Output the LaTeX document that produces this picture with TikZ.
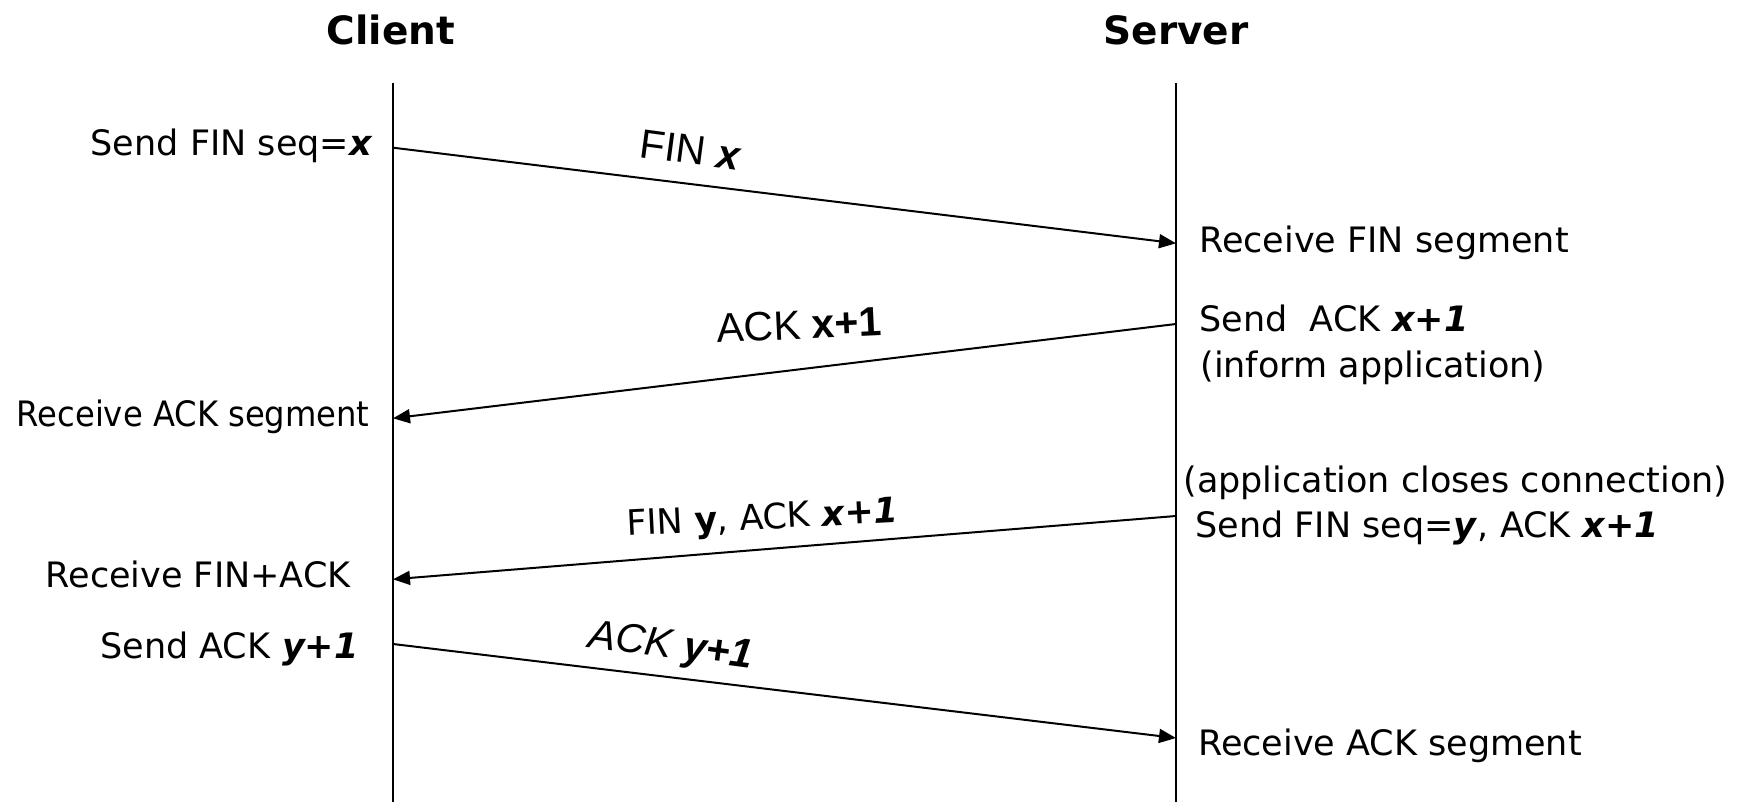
\documentclass[tikz,border=0pt]{standalone}
\usepackage{graphicx}
\usepackage{fontspec}
\setmainfont{DejaVu Sans}
\newfontfamily\arialfont{Liberation Sans}
\usetikzlibrary{arrows.meta}

\begin{document}
\begin{tikzpicture}[x=0.5pt, y=-0.5pt,
    lifeline/.style={line width=1pt},
    msg/.style={line width=1pt, -{Triangle[length=8.5pt, width=7pt]}},
    head/.style={font=\fontsize{19.5}{23}\selectfont\bfseries, inner sep=0pt, anchor=base},
    note/.style={font=\fontsize{17.5}{21}\selectfont, inner sep=0pt},
    lnote/.style={note, anchor=base east},
    rnote/.style={note, anchor=base west},
    arial/.style={font=\arialfont\fontsize{20.5}{24}\selectfont, inner sep=0pt, anchor=base west},
    tah/.style={font=\fontsize{17.5}{21}\selectfont, inner sep=0pt, anchor=base west}]

  % canvas
  \fill[white] (0,0) rectangle (1737,802);
  \path[use as bounding box] (0,0) rectangle (1737,802);

  % headings
  \node[head] (client) at (391,45) {Client};
  \node[head] (server) at (1176,45) {Server};

  % lifelines
  \coordinate (ctop) at (393,83);
  \coordinate (cbot) at (393,802);
  \coordinate (stop) at (1176,83);
  \coordinate (sbot) at (1176,802);
  \draw[lifeline] (ctop) -- (cbot);
  \draw[lifeline] (stop) -- (sbot);

  % message end points on the lifelines
  \coordinate (c1) at (393,147.7);
  \coordinate (s1) at (1176,243.3);
  \coordinate (s2) at (1176,324);
  \coordinate (c2) at (393,418.3);
  \coordinate (s3) at (1176,516);
  \coordinate (c3) at (393,579.3);
  \coordinate (c4) at (393,644);
  \coordinate (s4) at (1176,738);

  % messages
  \draw[msg] (c1) -- (s1);
  \draw[msg] (s2) -- (c2);
  \draw[msg] (s3) -- (c3);
  \draw[msg] (c4) -- (s4);

  % message labels
  \node[arial, rotate=-7.6] (m1) at (638,157) {FIN \textbf{\textit{x}}};
  \node[arial, rotate=2.7] (m2) at (717,343) {ACK \textbf{x+1}};
  \node[tah, rotate=2.9] (m3) at (627,536) {FIN \textbf{y}, ACK \textbf{\textit{x+1}}};
  \node[arial, rotate=-7.5] (m4) at (587,647) {\itshape ACK \textbf{y+1}};

  % client side notes
  \node[lnote] (n1) at (373,156) {Send FIN seq=\textbf{\textit{x}}};
  \node[lnote] (n2) at (370,427) {\scalebox{0.92}[1]{Receive ACK segment}};
  \node[lnote] (n3) at (351,588) {Receive FIN+ACK};
  \node[lnote] (n4) at (359,658) {Send ACK \textbf{\textit{y+1}}};

  % server side notes
  \node[rnote] (r1) at (1199,253) {Receive FIN segment};
  \node[rnote] (r2) at (1199,332) {Send\ \ ACK \textbf{\textit{x+1}}};
  \node[rnote] (r3) at (1200,378) {(inform application)};
  \node[rnote] (r4) at (1183,493) {(application closes connection)};
  \node[rnote] (r5) at (1195,538) {Send FIN seq=\textbf{\textit{y}}, ACK \textbf{\textit{x+1}}};
  \node[rnote] (r6) at (1198,755) {Receive ACK segment};
\end{tikzpicture}
\end{document}
